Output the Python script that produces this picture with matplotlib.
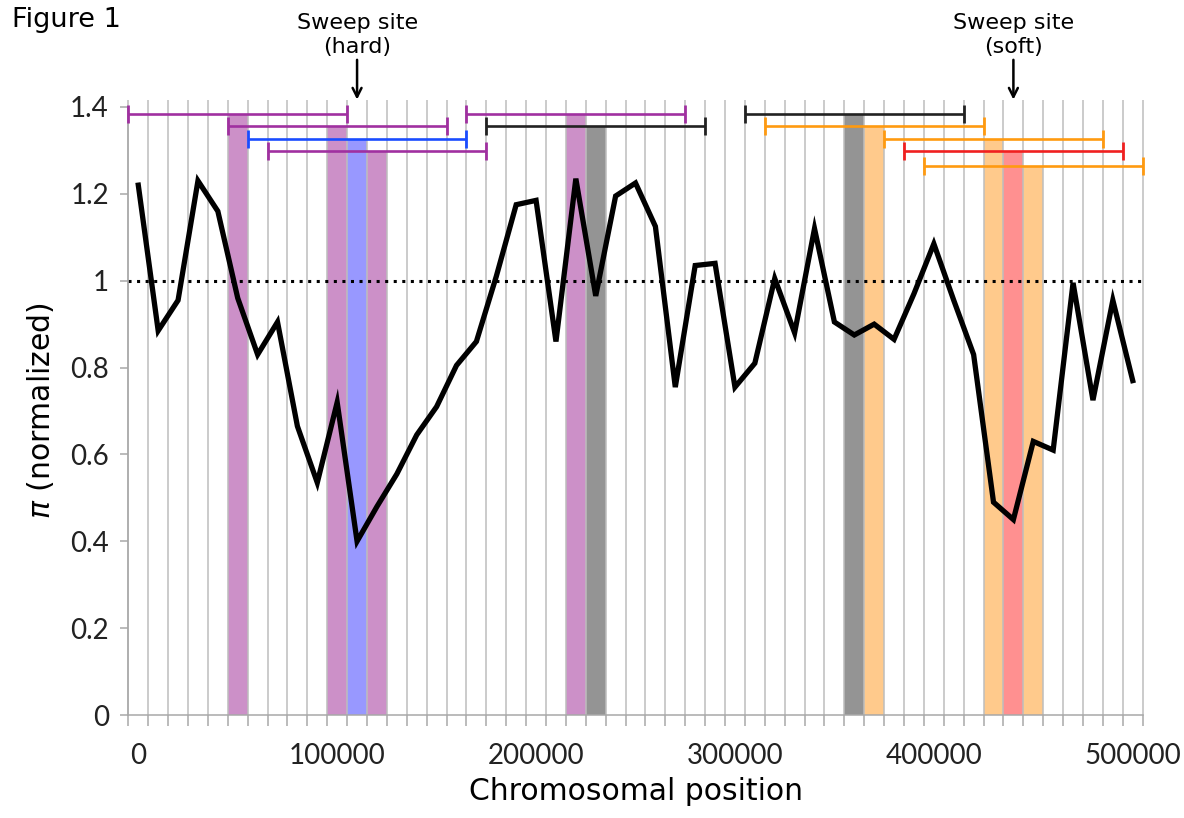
import matplotlib
matplotlib.use('Agg')
import matplotlib.pyplot as plt
import numpy as np

# ── Data ─────────────────────────────────────────────────────────────────────
positions = np.arange(0, 510000, 10000)   # window centres (bp)
pi_norm = [1.22, 0.885, 0.955, 1.23, 1.16, 0.96, 0.83, 0.905, 0.665, 0.535,
           0.72, 0.40, 0.48, 0.555, 0.645, 0.71, 0.805, 0.86, 1.01, 1.175,
           1.185, 0.86, 1.235, 0.965, 1.195, 1.225, 1.125, 0.755, 1.035, 1.04,
           0.755, 0.81, 1.005, 0.88, 1.12, 0.905, 0.875, 0.90, 0.865, 0.97,
           1.085, 0.955, 0.83, 0.49, 0.45, 0.63, 0.61, 0.995, 0.725, 0.955,
           0.77]

# candidate windows: centre, interval half-width, interval height, colour group
win_centres = [50000, 100000, 110000, 120000, 220000, 230000,
               360000, 370000, 430000, 440000, 450000]
win_halfw   = [55000] * 11
win_levels  = [1.385, 1.356, 1.327, 1.298, 1.385, 1.356,
               1.385, 1.356, 1.327, 1.298, 1.265]
win_groups  = ['purple', 'purple', 'blue', 'purple', 'purple', 'black',
               'black', 'orange', 'orange', 'red', 'orange']

sweeps = [(110000, 'Sweep site\n(hard)'), (440000, 'Sweep site\n(soft)')]

SHADE = {'purple': '#CC90C8', 'blue': '#9898FF', 'black': '#949494',
         'orange': '#FFCA8C', 'red': '#FF9090'}
BAR   = {'purple': '#A030A0', 'blue': '#1A4CFF', 'black': '#222222',
         'orange': '#FF9A10', 'red': '#F02020'}

# ── Figure ───────────────────────────────────────────────────────────────────
fig = plt.figure(figsize=(11.84, 8.18), dpi=100)
ax = fig.add_axes([0.1084, 0.1259, 0.8567, 0.7433])

xmin, xmax = -5000, 505000
ax.set_xlim(xmin, xmax)
ax.set_ylim(0, 1.4)

# shaded windows (column up to the interval height)
ax.bar(win_centres, win_levels, width=10000,
       color=[SHADE[g] for g in win_groups], lw=0, zorder=1)

# vertical window boundaries
bounds = np.arange(xmin, xmax + 1, 10000)
ax.vlines(bounds, 0, 1.415, color='#BDBDBD', lw=1.1, zorder=1.5, clip_on=False)

# reference line at 1
ax.axhline(1.0, color='black', lw=2.2, ls=(0, (1, 1.8)), zorder=2)

# diversity curve
ax.plot(positions, pi_norm, color='black', lw=3.8, solid_joinstyle='miter',
        zorder=4)

# intervals
for c, hw, lv, g in zip(win_centres, win_halfw, win_levels, win_groups):
    ax.errorbar(c, lv, xerr=hw, fmt='none', ecolor=BAR[g], elinewidth=1.9,
                capsize=6.3, capthick=2.0, zorder=5, clip_on=False)

# sweep annotations
for x, lab in sweeps:
    ax.annotate(lab, xy=(x, 1.417), xytext=(x, 1.515), ha='center', va='bottom',
                fontsize=16, linespacing=1.25, annotation_clip=False,
                arrowprops=dict(arrowstyle='->', color='black', lw=1.8,
                                shrinkA=0, shrinkB=0, mutation_scale=16))

# axes styling
for s in ['top', 'right']:
    ax.spines[s].set_visible(False)
for s in ['left', 'bottom']:
    ax.spines[s].set_color('#A8A8A8')
    ax.spines[s].set_linewidth(1.1)

ax.set_xticks([0, 100000, 200000, 300000, 400000, 500000])
ax.set_xticks(bounds, minor=True)
ax.tick_params(axis='x', which='major', length=0, pad=20)
ax.tick_params(axis='x', which='minor', length=8, width=1.1, color='#A8A8A8')
ax.set_yticks([0, 0.2, 0.4, 0.6, 0.8, 1.0, 1.2, 1.4])
ax.set_yticklabels(['0', '0.2', '0.4', '0.6', '0.8', '1', '1.2', '1.4'])
ax.tick_params(axis='y', length=6, width=1.1, color='#A8A8A8', pad=8)
for lbl in ax.get_xticklabels() + ax.get_yticklabels():
    lbl.set_fontfamily('Lato')
    lbl.set_fontsize(20)
    lbl.set_color('#222222')

ax.set_xlabel('Chromosomal position', fontsize=21.5, labelpad=6)
ax.set_ylabel(r'$\pi$ (normalized)', fontsize=21.5, labelpad=10)

fig.text(0.010, 0.975, 'Figure 1', fontsize=19.5, ha='left', va='center')

fig.savefig('out.png', dpi=100)
plt.close(fig)
